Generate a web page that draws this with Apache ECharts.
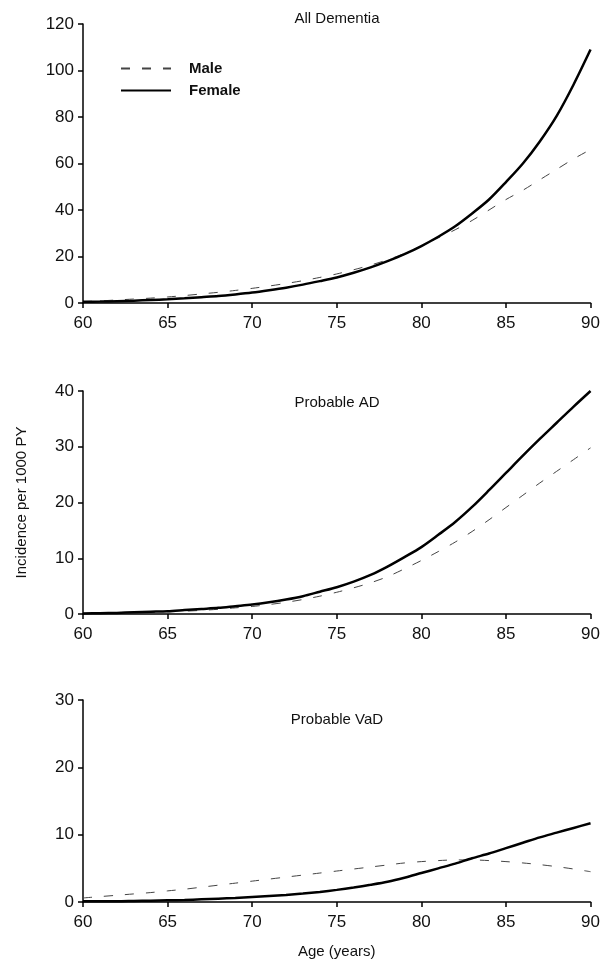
<!DOCTYPE html>
<html>
<head>
<meta charset="utf-8">
<script src="https://cdn.jsdelivr.net/npm/echarts@6/dist/echarts.min.js"></script>
<style>
  html, body { margin: 0; padding: 0; background: #fff; }
  #chart { width: 603px; height: 962px; }
</style>
</head>
<body>
<div id="chart"></div>
<script>
// ages 60..90, one value per year
const ages = [60,61,62,63,64,65,66,67,68,69,70,71,72,73,74,75,76,77,78,79,80,81,82,83,84,85,86,87,88,89,90];

// All Dementia
const allMale   = [0.6,0.9,1.3,1.7,2.1,2.6,3.2,3.9,4.6,5.4,6.3,7.3,8.4,9.6,11.0,12.5,14.3,16.3,18.6,21.3,24.5,28,31.5,35.5,40,44.5,48.5,53,57.5,62,66];
const allFemale = [0.5,0.6,0.8,1.0,1.3,1.6,2.0,2.5,3.0,3.7,4.5,5.5,6.6,7.9,9.4,11.0,13.0,15.3,18.0,21.0,24.5,28.5,33,38.5,44.5,52,60,69.5,80.5,94,109];

// Probable AD
const adMale   = [0.1,0.12,0.17,0.22,0.3,0.4,0.5,0.65,0.85,1.1,1.35,1.7,2.1,2.6,3.2,3.9,4.7,5.6,6.7,8.1,9.6,11.2,12.9,14.8,16.9,19.1,21.3,23.5,25.6,27.7,29.8];
const adFemale = [0.1,0.15,0.2,0.3,0.4,0.5,0.7,0.9,1.1,1.4,1.7,2.1,2.6,3.2,4.0,4.8,5.8,7.0,8.5,10.2,12.0,14.2,16.5,19.2,22.2,25.3,28.4,31.4,34.3,37.2,40.0];

// Probable VaD
const vadMale   = [0.6,0.8,1.0,1.2,1.4,1.65,1.9,2.2,2.5,2.8,3.1,3.4,3.7,4.0,4.3,4.6,4.9,5.2,5.5,5.8,6.0,6.15,6.25,6.25,6.15,6.0,5.8,5.55,5.25,4.9,4.5];
const vadFemale = [0.1,0.1,0.1,0.15,0.2,0.25,0.3,0.4,0.5,0.6,0.75,0.9,1.05,1.25,1.5,1.8,2.15,2.55,3.0,3.6,4.3,5.0,5.7,6.5,7.2,8.0,8.8,9.6,10.3,11.0,11.7];

const panelTitles = ['All Dementia', 'Probable AD', 'Probable VaD'];
const yMax = [120, 40, 30];
const yStep = [20, 10, 10];

const font = 'Liberation Sans, Arial, sans-serif';

function pairs(vals) {
    return ages.map((a, i) => [a, vals[i]]);
}

const grids = [
    {left: 83, right: 12, top: 24, height: 279},
    {left: 83, right: 12, top: 391, height: 223},
    {left: 83, right: 12, top: 700, height: 202}
];

const axisCommon = {
    axisLine: {show: true, onZero: false, lineStyle: {color: '#000', width: 1.5}},
    axisTick: {show: true, inside: false, length: 5, lineStyle: {color: '#000', width: 1.5}},
    splitLine: {show: false},
    axisLabel: {color: '#111', fontSize: 17, fontFamily: font}
};

const xAxes = grids.map((g, i) => Object.assign({}, axisCommon, {
    type: 'value', gridIndex: i, min: 60, max: 90, interval: 5,
    axisLabel: Object.assign({}, axisCommon.axisLabel, {margin: 12})
}));
xAxes[2].name = 'Age (years)';
xAxes[2].nameLocation = 'middle';
xAxes[2].nameGap = 42;
xAxes[2].nameTextStyle = {color: '#111', fontSize: 15, fontFamily: font};

const yAxes = grids.map((g, i) => Object.assign({}, axisCommon, {
    type: 'value', gridIndex: i, min: 0, max: yMax[i], interval: yStep[i],
    axisLabel: Object.assign({}, axisCommon.axisLabel, {margin: 9})
}));
yAxes[1].name = 'Incidence per 1000 PY';
yAxes[1].nameLocation = 'middle';
yAxes[1].nameGap = 54;
yAxes[1].nameRotate = 90;
yAxes[1].nameTextStyle = {color: '#111', fontSize: 15, fontFamily: font};

const maleStyle = {color: '#444', width: 1, type: [9, 12]};
const femaleStyle = {color: '#000', width: 2.5};

const sets = [[allMale, allFemale], [adMale, adFemale], [vadMale, vadFemale]];
const series = [];
sets.forEach((s, i) => {
    series.push({
        name: 'Male', type: 'line', xAxisIndex: i, yAxisIndex: i,
        data: pairs(s[0]), showSymbol: false, symbol: 'none', smooth: 0.3,
        lineStyle: maleStyle, itemStyle: {color: '#444'}, z: 2
    });
    series.push({
        name: 'Female', type: 'line', xAxisIndex: i, yAxisIndex: i,
        data: pairs(s[1]), showSymbol: false, symbol: 'none', smooth: 0.3,
        lineStyle: femaleStyle, itemStyle: {color: '#000'}, z: 3
    });
});

const titleTops = [11, 395, 712];

const option = {
    animation: false,
    backgroundColor: '#fff',
    title: panelTitles.map((t, i) => ({
        text: t, left: 337, top: titleTops[i], textAlign: 'center', padding: 0,
        textStyle: {color: '#111', fontSize: 15, fontWeight: 'normal', fontFamily: font}
    })),
    legend: {
        data: ['Male', 'Female'],
        orient: 'vertical',
        left: 120, top: 61,
        itemWidth: 50, itemHeight: 14, itemGap: 7,
        padding: 0,
        itemStyle: {opacity: 0},
        textStyle: {color: '#111', fontSize: 15, fontWeight: 'bold', fontFamily: font, padding: [0, 0, 0, 13]}
    },
    grid: grids,
    xAxis: xAxes,
    yAxis: yAxes,
    series: series
};

const myChart = echarts.init(document.getElementById('chart'));
myChart.setOption(option);
</script>
</body>
</html>
